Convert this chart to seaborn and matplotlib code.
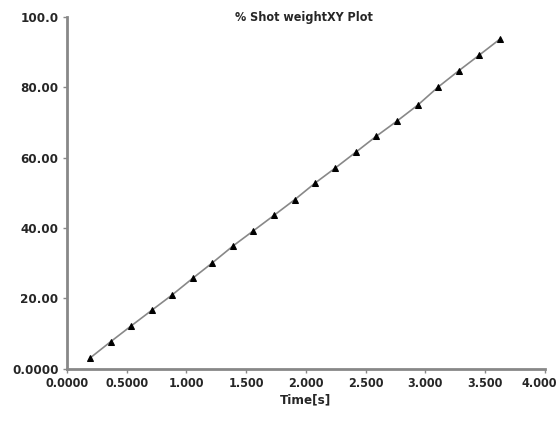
import matplotlib
matplotlib.use("Agg")
import matplotlib.pyplot as plt
import matplotlib.transforms as mtransforms
import pandas as pd
import seaborn as sns

# 시간[s] / % Shot weight 값
time_s = [0.195, 0.366, 0.538, 0.709, 0.881, 1.052, 1.217, 1.390, 1.560, 1.737,
          1.908, 2.078, 2.248, 2.420, 2.590, 2.767, 2.939, 3.105, 3.280, 3.450, 3.625]
shot_weight = [3.1, 7.7, 12.2, 16.6, 21.0, 25.7, 30.1, 34.9, 39.2, 43.7,
               48.1, 52.8, 57.1, 61.6, 66.1, 70.5, 75.0, 80.0, 84.7, 89.1, 93.7]

x_ticks = [0.0, 0.5, 1.0, 1.5, 2.0, 2.5, 3.0, 3.5, 4.0]
x_labels = ["0.0000", "0.5000", "1.000", "1.500", "2.000", "2.500", "3.000", "3.500", "4.000"]
y_ticks = [0, 20, 40, 60, 80, 100]
y_labels = ["0.0000", "20.00", "40.00", "60.00", "80.00", "100.0"]

df = pd.DataFrame({"time": time_s, "weight": shot_weight})

sns.set_style("white")
plt.rcParams['font.family'] = ['DejaVu Sans']
plt.rcParams['font.stretch'] = 'condensed'

fig = plt.figure(figsize=(5.57, 4.23), dpi=100)
ax = fig.add_axes([0.120, 0.128, 0.858, 0.832])

sns.lineplot(data=df, x="time", y="weight", ax=ax, color="#888888", linewidth=1.2,
             marker="^", markersize=4, markerfacecolor="black", markeredgecolor="black")

ax.set_xlim(0, 4.0)
ax.set_ylim(0, 100)
ax.set_xticks(x_ticks)
ax.set_xticklabels(x_labels, fontsize=9, fontweight="bold", fontstretch="condensed")
ax.set_yticks(y_ticks)
ax.set_yticklabels(y_labels, fontsize=9.5, fontweight="bold", fontstretch="condensed")
ax.tick_params(axis="both", direction="out", length=3, width=1, color="#888888",
               bottom=True, left=True, pad=3)

# 마지막 라벨이 잘리지 않도록 조금 왼쪽으로
last = ax.get_xticklabels()[-1]
last.set_transform(last.get_transform() + mtransforms.ScaledTranslation(-5 / 100, 0, fig.dpi_scale_trans))

sns.despine(ax=ax)
for side in ["left", "bottom"]:
    ax.spines[side].set_color("#888888")
    ax.spines[side].set_linewidth(2)

ax.set_xlabel("Time[s]", fontsize=9.5, fontweight="bold", fontstretch="condensed", labelpad=2)
ax.set_ylabel("")
fig.text(0.545, 0.958, "% Shot weightXY Plot", ha="center", va="center",
         fontsize=9, fontweight="bold", fontstretch="condensed")

plt.savefig("out.png", dpi=100)
